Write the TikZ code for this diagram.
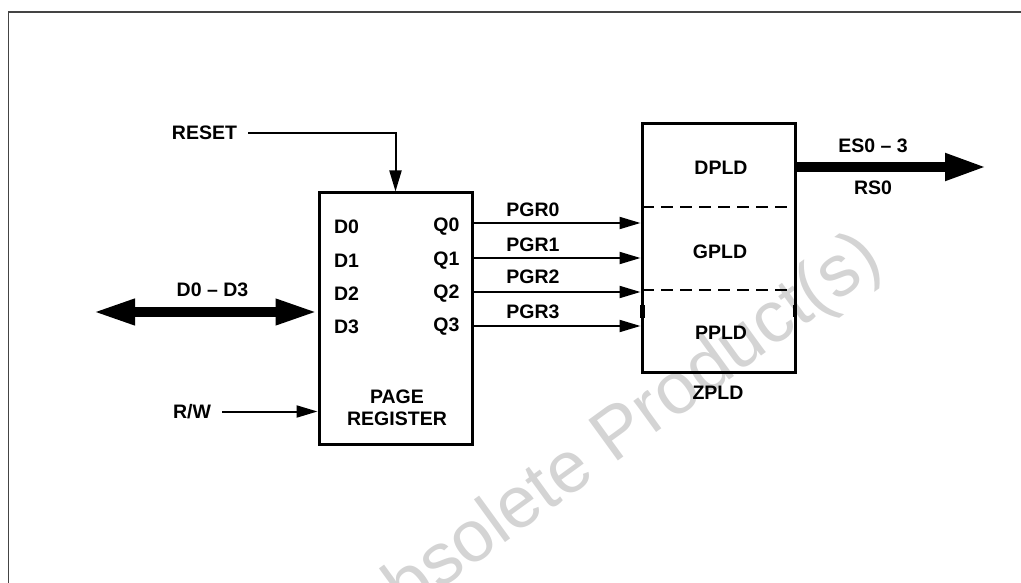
\documentclass[tikz,border=0pt]{standalone}
\usepackage{fontspec}
\setmainfont{Liberation Sans}
\usetikzlibrary{arrows.meta}
\definecolor{framegray}{HTML}{444444}
\definecolor{wmgray}{HTML}{D4D4D4}
\tikzset{
  lbl/.style={font=\bfseries\fontsize{19.5}{21.5}\selectfont, inner sep=0pt, text=black},
  blk/.style={draw, line width=3pt, minimum width=153pt, inner sep=0pt, fill=none},
  sig/.style={line width=2pt, -{Triangle[length=21pt,width=12pt]}},
  divider/.style={line width=2pt, dash pattern=on 12pt off 7pt},
  bus/.style={line width=9.5pt},
}
\begin{document}
\begin{tikzpicture}[x=1pt,y=-1pt]
\useasboundingbox (0,0) rectangle (1021,583);
% frame
\draw[framegray, line width=1.6pt] (8.5,583) -- (8.5,12) -- (1021,12);
% watermark
\node[wmgray, font=\fontsize{73}{77}\selectfont, rotate=36, inner sep=0pt] (wm) at (612,442) {Obsolete Product(s)};

% page register block
\node[blk, minimum height=251pt] (pr) at (395.5,318.5) {};
\node[lbl] (d0) at (346.5,227) {D0};
\node[lbl] (d1) at (346.5,261) {D1};
\node[lbl] (d2) at (346.5,294) {D2};
\node[lbl] (d3) at (346.5,327) {D3};
\node[lbl] (q0) at (446.5,227) {Q0};
\node[lbl] (q1) at (446.5,261) {Q1};
\node[lbl] (q2) at (446.5,294) {Q2};
\node[lbl] (q3) at (446.5,327) {Q3};
\node[lbl, align=center] (prl) at (397,408) {PAGE\\REGISTER};

% ZPLD block
\node[blk, minimum height=248pt] (z) at (718.5,248) {};
\coordinate (dv1) at (0,207);
\coordinate (dv2) at (0,290);
\draw[divider] (z.west |- dv1) ++(1.5,0) -- (z.east |- dv1);
\draw[divider] (z.west |- dv2) ++(1.5,0) -- (z.east |- dv2);
\fill (640,305) rectangle (644.5,318);
\fill (793,305) rectangle (797,317);
\node[lbl] (dpld) at (721,168) {DPLD};
\node[lbl] (gpld) at (720,252) {GPLD};
\node[lbl] (ppld) at (721,333) {PPLD};
\node[lbl] (zpld) at (718,393) {ZPLD};

% PGR connections
\coordinate (y0) at (0,223);
\coordinate (y1) at (0,258);
\coordinate (y2) at (0,292);
\coordinate (y3) at (0,326);
\draw[sig] (pr.east |- y0) -- (z.west |- y0);
\draw[sig] (pr.east |- y1) -- (z.west |- y1);
\draw[sig] (pr.east |- y2) -- (z.west |- y2);
\draw[sig] (pr.east |- y3) -- (z.west |- y3);
\node[lbl] (pgr0) at (533,210) {PGR0};
\node[lbl] (pgr1) at (533,244.5) {PGR1};
\node[lbl] (pgr2) at (533,277) {PGR2};
\node[lbl] (pgr3) at (533,311.5) {PGR3};

% RESET
\node[lbl, inner xsep=11pt] (reset) at (204.5,133) {RESET};
\draw[sig] (reset.east) -| (pr.north);

% R/W
\node[lbl, inner xsep=11pt] (rw) at (192,411.5) {R/W};
\draw[sig] (rw.east) -- (rw.east -| pr.west);

% D0 - D3 bus
\coordinate (busl) at (93,312);
\draw[bus, {Triangle[length=42pt,width=24pt]}-{Triangle[length=42pt,width=24pt]}] (busl) -- (busl -| pr.west);
\node[lbl] (dbus) at (212.5,290) {D0 -- D3};

% ES output bus
\coordinate (esend) at (987,167);
\draw[bus, line width=10pt, -{Triangle[length=42pt,width=25pt]}] (z.east |- esend) -- (esend);
\node[lbl] (es) at (873,146) {ES0 -- 3};
\node[lbl] (rs) at (873,188) {RS0};
\end{tikzpicture}
\end{document}
